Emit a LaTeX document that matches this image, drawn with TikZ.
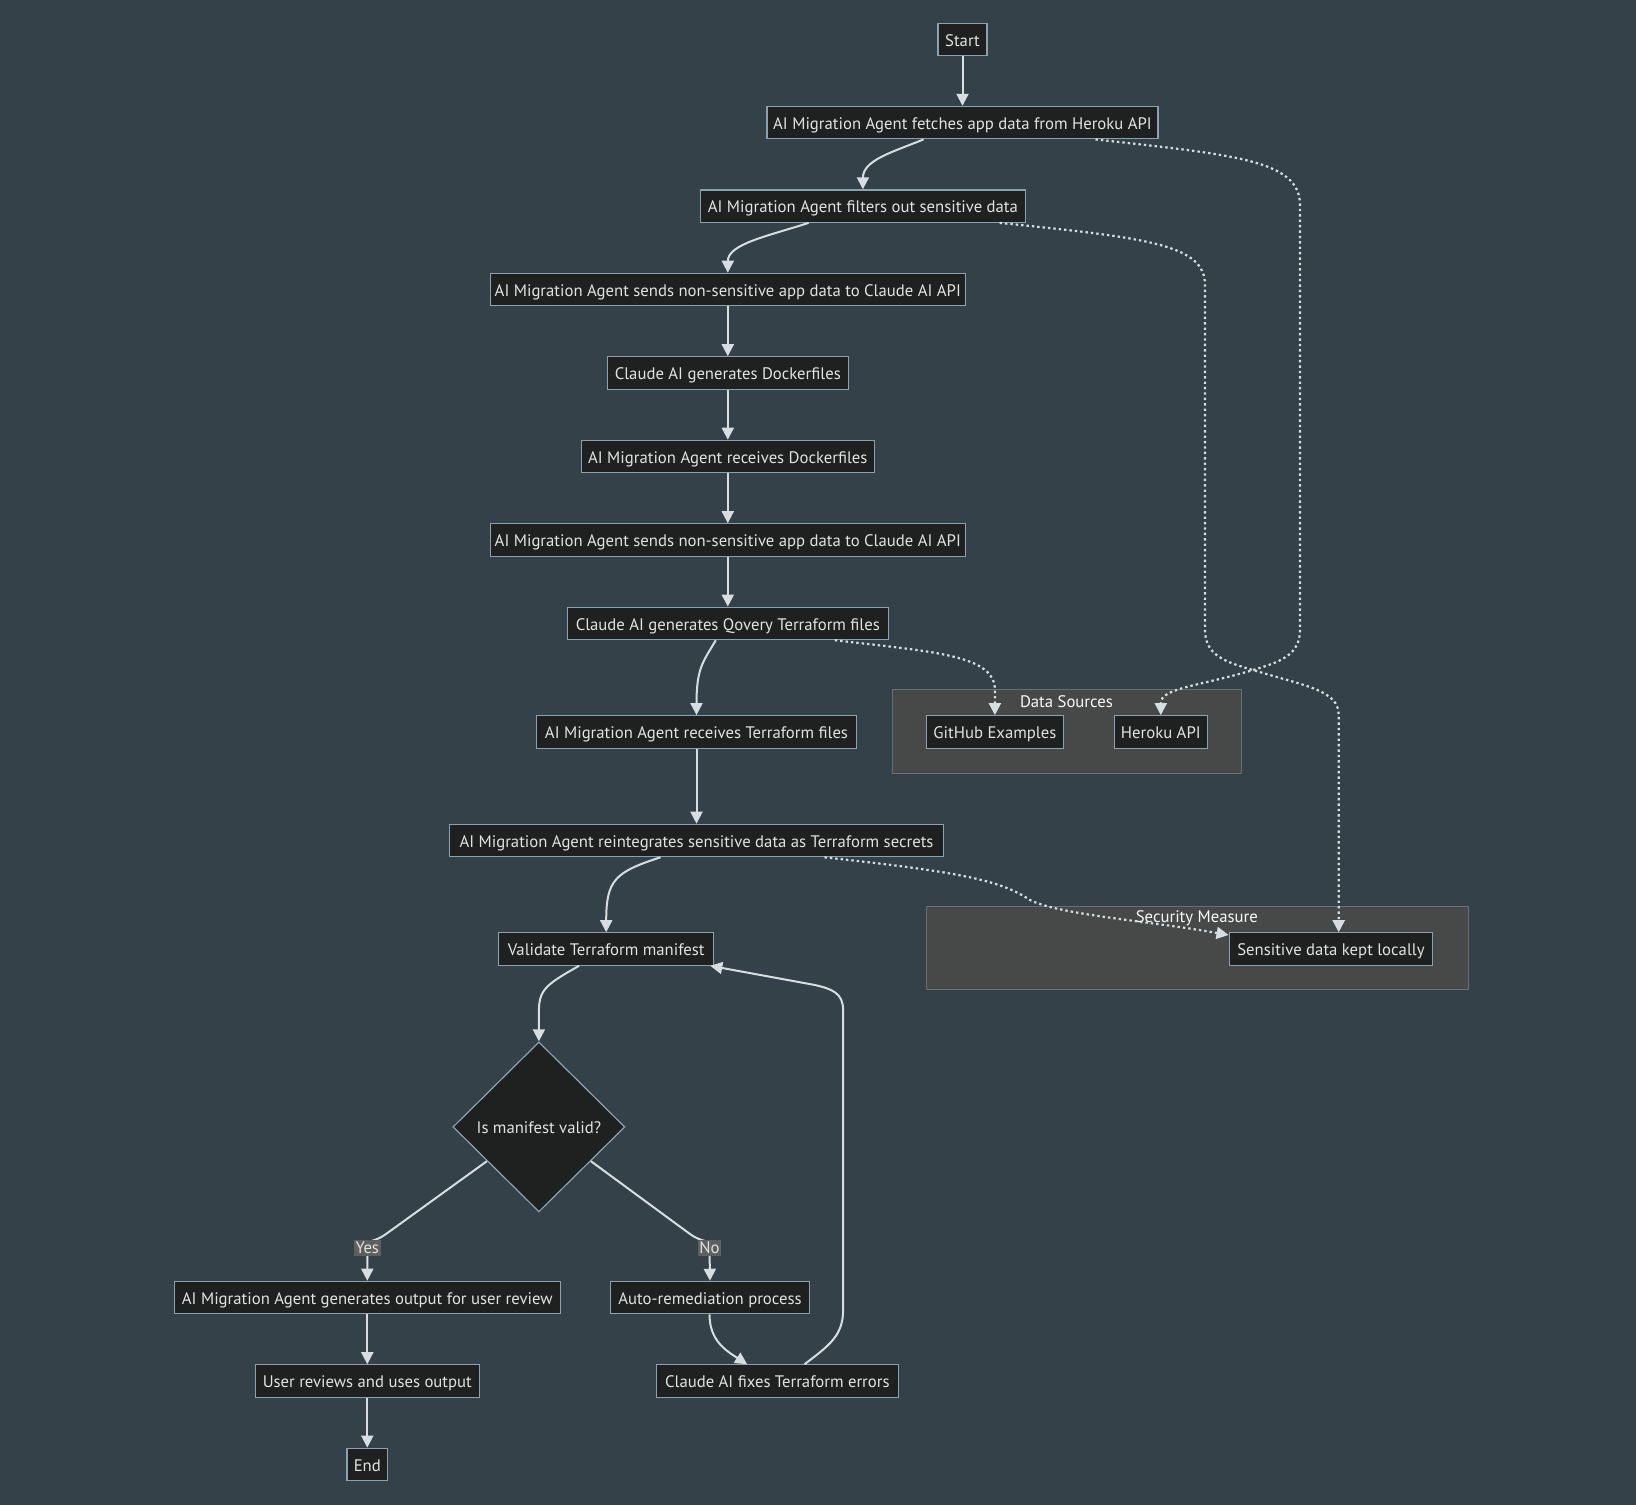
\documentclass[tikz,border=0pt]{standalone}
\usepackage{fontspec}
\setmainfont{PT Sans}
\usetikzlibrary{arrows.meta,calc,shapes.geometric}
\definecolor{bg}{HTML}{344149}
\definecolor{nodefill}{HTML}{1F2020}
\definecolor{nodeborder}{HTML}{8AA2B0}
\definecolor{txt}{HTML}{E2E2E2}
\definecolor{edgecol}{HTML}{D6DEE2}
\definecolor{clfill}{HTML}{474948}
\definecolor{clborder}{HTML}{66706F}
\definecolor{lblfill}{HTML}{5E5F5F}
\begin{document}
\begin{tikzpicture}[x=0.5pt,y=-0.5pt,
  box/.style={draw=nodeborder, fill=nodefill, line width=0.6pt, text=txt,
    font=\fontsize{8.35}{10}\selectfont, minimum height=16.2pt, inner sep=0pt, align=center,
    text height=7.9pt, text depth=1.2pt},
  decision/.style={box, shape=diamond, minimum width=86pt, minimum height=85pt},
  cluster/.style={draw=clborder, fill=clfill, line width=0.6pt, inner sep=0pt},
  cltitle/.style={text=white!95!gray, font=\fontsize{8.35}{10}\selectfont, inner sep=0pt},
  arr/.style={draw=edgecol, line width=1pt, -{Triangle[length=6pt,width=6pt]}},
  dotarr/.style={arr, line width=1.1pt, dash pattern=on 1.2pt off 1.5pt},
  lbl/.style={fill=lblfill, text=txt, font=\fontsize{8.35}{10}\selectfont, inner sep=0.8pt, minimum height=8.4pt, minimum width=11.5pt}
]
\fill[bg] (0,0) rectangle (1636,1505);
\useasboundingbox (0,0) rectangle (1636,1505);

% clusters
\node[cluster, minimum width=174.75pt, minimum height=41.75pt] (dsrc) at (1066.9,731.5) {};
\node[cltitle] (dsrct) at (1066.4,701.2) {Data Sources};
\node[cluster, minimum width=270.8pt, minimum height=41.2pt] (secm) at (1197.3,947.9) {};
\node[cltitle] (secmt) at (1196.8,918.2) {Security Measure};

% nodes
\node[box, minimum width=24.5pt] (start) at (962.5,39.6) {Start};
\node[box, minimum width=195.5pt] (fetch) at (962.5,122.6) {AI Migration Agent fetches app data from Heroku API};
\node[box, minimum width=162.8pt] (filter) at (862.9,206.1) {AI Migration Agent filters out sensitive data};
\node[box, minimum width=237.4pt] (send1) at (727.8,289.5) {AI Migration Agent sends non-sensitive app data to Claude AI API};
\node[box, minimum width=120.5pt] (cdock) at (727.8,373.0) {Claude AI generates Dockerfiles};
\node[box, minimum width=146.6pt] (rdock) at (727.8,456.5) {AI Migration Agent receives Dockerfiles};
\node[box, minimum width=237.4pt] (send2) at (727.8,540.0) {AI Migration Agent sends non-sensitive app data to Claude AI API};
\node[box, minimum width=160.7pt] (ctf) at (727.8,623.4) {Claude AI generates Qovery Terraform files};
\node[box, minimum width=160.2pt] (rtf) at (696.5,731.9) {AI Migration Agent receives Terraform files};
\node[box, minimum width=247.3pt] (reint) at (696.5,840.5) {AI Migration Agent reintegrates sensitive data as Terraform secrets};
\node[box, minimum width=107.5pt] (valid) at (606.2,949.0) {Validate Terraform manifest};
\node[decision] (dia) at (538.9,1126.9) {Is manifest valid?};
\node[box, minimum width=193pt] (genout) at (367.3,1297.5) {AI Migration Agent generates output for user review};
\node[box, minimum width=99.7pt] (auto) at (710,1297.5) {Auto-remediation process};
\node[box, minimum width=112.2pt] (urev) at (367.3,1381.0) {User reviews and uses output};
\node[box, minimum width=121pt] (cfix) at (777.3,1381.0) {Claude AI fixes Terraform errors};
\node[box, minimum width=20.4pt] (end) at (367.3,1464.4) {End};
\node[box, minimum width=68.4pt] (github) at (994.9,731.9) {GitHub Examples};
\node[box, minimum width=46.5pt] (heroku) at (1160.8,731.9) {Heroku API};
\node[box, minimum width=101.8pt] (sens) at (1330.9,949.0) {Sensitive data kept locally};

% main flow
\draw[arr] (start) -- (fetch);
\draw[arr] ($(fetch.south)+(-39,0)$) .. controls (893,152) and (862.9,160) .. (filter.north);
\draw[arr] ($(filter.south)+(-54.3,0)$) .. controls (768,236) and (727.8,244) .. (send1.north);
\draw[arr] (send1) -- (cdock);
\draw[arr] (cdock) -- (rdock);
\draw[arr] (rdock) -- (send2);
\draw[arr] (send2) -- (ctf);
\draw[arr] ($(ctf.south)+(-12,0)$) .. controls (703,662) and (696.5,668) .. (rtf.north);
\draw[arr] (rtf) -- (reint);
\draw[arr] ($(reint.south)+(-36,0)$) .. controls (615,872) and (606.2,880) .. (valid.north);
\draw[arr] ($(valid.south)+(-27.1,0)$) .. controls (545,985) and (538.9,990) .. (538.9,1012) -- (dia.north);
\draw[arr] ($(dia.west)!0.4!(dia.south)$) -- (386,1234) .. controls (372,1244) and (367.3,1238) .. (367.3,1248) node[lbl] (yes) {Yes} -- (genout.north);
\draw[arr] ($(dia.east)!0.4!(dia.south)$) -- (690,1234) .. controls (704,1244) and (709.5,1238) .. (709.5,1248) node[lbl] (no) {No} -- (auto.north);
\draw[arr] (genout) -- (urev);
\draw[arr] (urev) -- (end);
\draw[arr] ($(auto.south)+(-0.5,0)$) .. controls (709.5,1340) and (725,1350) .. ($(cfix.north)+(-30.2,0)$);
\draw[arr] ($(cfix.north)+(27.2,0)$) .. controls (830,1345) and (843.1,1335) .. (843.1,1310) -- (843.1,1010) .. controls (843.1,993) and (832,989) .. (815,985) -- ($(valid.south east)+(-4,0)$);

% dotted links
\draw[dotarr] ($(ctf.south)+(107,0)$) .. controls (935,652) and (994.9,655) .. (994.9,690) -- (github.north);
\draw[dotarr] ($(fetch.south)+(133,0)$) .. controls (1235,155) and (1300,160) .. (1300,205) -- (1300,630) .. controls (1300,655) and (1280,662) .. (1253,670) .. controls (1200,686) and (1160.8,688) .. (1160.8,703) -- (heroku.north);
\draw[dotarr] ($(filter.south)+(136.7,0)$) .. controls (1150,238) and (1205,245) .. (1205,285) -- (1205,630) .. controls (1205,655) and (1225,662) .. (1253,670) .. controls (1305,686) and (1338.7,690) .. (1338.7,715) -- ($(sens.north)+(7.8,0)$);
\draw[dotarr] ($(reint.south)+(128,0)$) .. controls (960,872) and (1000,880) .. (1030,900) .. controls (1060,915) and (1150,921) .. ($(sens.west)+(0,-14)$);
\end{tikzpicture}
\end{document}
